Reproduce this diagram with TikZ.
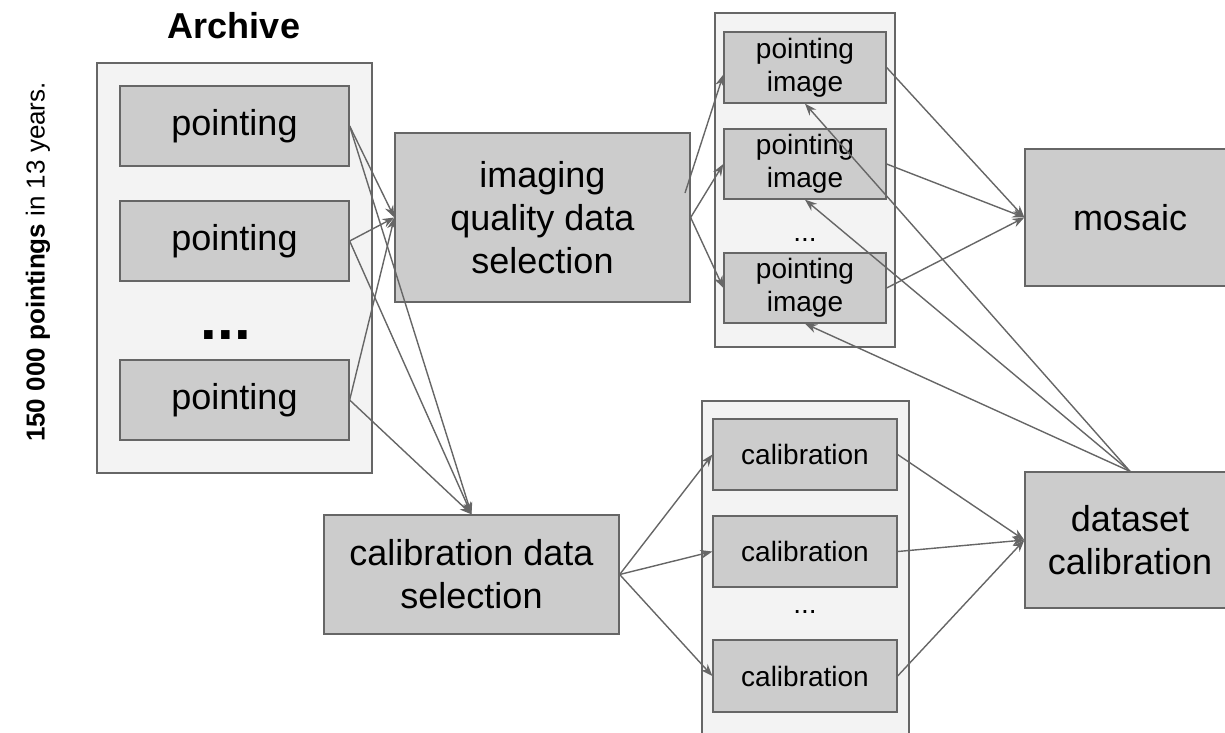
\documentclass[tikz,border=0pt]{standalone}
\usepackage{fontspec}
\setmainfont{Liberation Sans}
\usetikzlibrary{arrows.meta}
\definecolor{boxfill}{HTML}{CCCCCC}
\definecolor{groupfill}{HTML}{F3F3F3}
\definecolor{edgegray}{HTML}{666666}

\begin{document}
\begin{tikzpicture}[x=1pt,y=-1pt,
  box/.style={draw=edgegray, fill=boxfill, line width=1.3pt, inner sep=0pt, align=center},
  group/.style={draw=edgegray, fill=groupfill, line width=1.3pt, inner sep=0pt},
  big/.style={font=\fontsize{36}{43}\selectfont},
  small/.style={font=\fontsize{28}{33}\selectfont},
  link/.style={draw=edgegray, line width=1.4pt, -{Stealth[length=12pt,width=9pt]}},
]
\useasboundingbox (0,0) rectangle (1225,732);
\clip (0,0) rectangle (1225,732);

% side caption and archive title
\node[rotate=90, inner sep=0pt, font=\fontsize{26}{31}\selectfont] (caption) at (38,262)
  {\textbf{150 000 pointings} in 13 years.};
\node[anchor=base, inner sep=0pt, font=\bfseries\fontsize{36}{43}\selectfont] (title) at (234,38) {Archive};

% archive of pointings
\node[group, minimum width=275pt, minimum height=410pt] (archive) at (234.5,268) {};
\node[box, big, minimum width=229pt, minimum height=80pt] (p1) at (234.5,126) {pointing};
\node[box, big, minimum width=229pt, minimum height=80pt] (p2) at (234.5,241) {pointing};
\node[box, big, minimum width=229pt, minimum height=80pt] (p3) at (234.5,400) {pointing};
\node[inner sep=0pt, font=\bfseries\fontsize{60}{72}\selectfont] (pdots) at (226,335) {...};

% selection steps
\node[box, big, minimum width=295pt, minimum height=169pt] (iqs) at (542.5,217.5)
  {imaging\\quality data\\selection};
\node[box, big, minimum width=295pt, minimum height=119pt] (cds) at (471.5,574.5)
  {calibration data\\selection};
\coordinate (iqsout) at (685,193);

% pointing images
\node[group, minimum width=180pt, minimum height=334pt] (imggroup) at (805,180) {};
\node[box, small, minimum width=162pt, minimum height=71pt] (pi1) at (805,67.5) {pointing\\image};
\node[box, small, minimum width=162pt, minimum height=70pt] (pi2) at (805,164) {pointing\\image};
\node[box, small, minimum width=162pt, minimum height=70pt] (pi3) at (805,288) {pointing\\image};
\node[inner sep=0pt, small] (idots) at (805,240) {...};

% calibrations
\node[group, minimum width=207pt, minimum height=360pt] (calgroup) at (805.5,581) {};
\node[box, small, minimum width=184pt, minimum height=71pt] (c1) at (805,454.5) {calibration};
\node[box, small, minimum width=184pt, minimum height=71pt] (c2) at (805,551.5) {calibration};
\node[box, small, minimum width=184pt, minimum height=72pt] (c3) at (805,676) {calibration};
\node[inner sep=0pt, small] (cdots) at (805,612) {...};

% results
\node[box, big, minimum width=210pt, minimum height=137pt] (mosaic) at (1130,217.5) {mosaic};
\node[box, big, minimum width=210pt, minimum height=136pt] (dcal) at (1130,540) {dataset\\calibration};

% connectors
\foreach \p in {p1,p2,p3} {
  \draw[link] (\p.east) -- (iqs.west);
  \draw[link] (\p.east) -- (cds.north);
}
\draw[link] (iqsout) -- ([yshift=-7pt]pi1.west);
\draw[link] (iqs.east) -- (pi2.west);
\draw[link] (iqs.east) -- (pi3.west);
\foreach \i in {pi1,pi2,pi3} {
  \draw[link] (\i.east) -- (mosaic.west);
  \draw[link] (dcal.north) -- (\i.south);
}
\foreach \c in {c1,c2,c3} {
  \draw[link] (cds.east) -- (\c.west);
  \draw[link] (\c.east) -- (dcal.west);
}
\end{tikzpicture}
\end{document}
